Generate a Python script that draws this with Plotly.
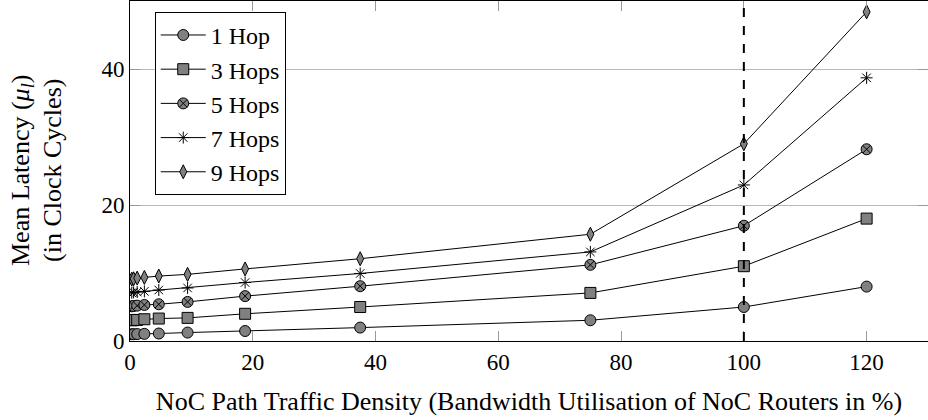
import plotly.graph_objects as go

# ---- data ----
traffic_density = [0.29, 0.59, 1.17, 2.34, 4.69, 9.38, 18.75, 37.5, 75, 100, 120]
hop1 = [1.0, 1.0, 1.02, 1.05, 1.1, 1.24, 1.47, 1.97, 3.05, 5.0, 8.0]
hop3 = [3.05, 3.07, 3.1, 3.2, 3.3, 3.4, 4.0, 5.0, 7.07, 11.0, 18.0]
hop5 = [5.1, 5.15, 5.2, 5.3, 5.4, 5.75, 6.6, 8.06, 11.2, 16.95, 28.2]
hop7 = [7.1, 7.15, 7.2, 7.3, 7.5, 7.8, 8.6, 9.93, 13.1, 22.95, 38.7]
hop9 = [9.1, 9.15, 9.25, 9.35, 9.55, 9.8, 10.6, 12.1, 15.7, 29.0, 48.4]
series_names = ["1 Hop", "3 Hops", "5 Hops", "7 Hops", "9 Hops"]
saturation_point = 100
x_ticks = [0, 20, 40, 60, 80, 100, 120]
y_ticks = [0, 20, 40]
y_title_lines = ["Mean Latency (<i>μ<sub>l</sub></i>)", "(in Clock Cycles)"]

FONT = "Liberation Serif"
TICK_FS = 23
TITLE_FS = 26
LEGEND_FS = 24
GRAY = "#808080"

styles = [
    dict(symbol="circle", size=11, color=GRAY, line=dict(color="black", width=1)),
    dict(symbol="square", size=11, color=GRAY, line=dict(color="black", width=1)),
    dict(symbol="circle-x", size=11, color=GRAY, line=dict(color="black", width=1)),
    dict(symbol="asterisk-open", size=10, color="black", line=dict(color="black", width=1)),
    dict(symbol="diamond-tall", size=10, color=GRAY, line=dict(color="black", width=1)),
]

fig = go.Figure()
for name, ys, st in zip(series_names, [hop1, hop3, hop5, hop7, hop9], styles):
    fig.add_trace(go.Scatter(
        x=traffic_density, y=ys, name=name, mode="lines+markers",
        line=dict(color="black", width=1),
        marker=st,
    ))

fig.add_shape(type="line", xref="x", yref="y domain",
              x0=saturation_point, x1=saturation_point, y0=0, y1=1,
              line=dict(color="black", width=2, dash="dash"), layer="above")

# y-axis title as two rotated lines (tighter line spacing like the reference)
for line_text, xshift in zip(y_title_lines, [-108, -78]):
    fig.add_annotation(text=line_text, xref="paper", yref="paper", x=0, y=0.5,
                       xshift=xshift, xanchor="center", yanchor="middle",
                       textangle=-90, showarrow=False,
                       font=dict(family=FONT, size=TITLE_FS, color="black"))

fig.update_layout(
    width=928, height=420,
    margin=dict(l=130, r=0, t=1, b=79),
    plot_bgcolor="white", paper_bgcolor="white",
    font=dict(family=FONT, size=TICK_FS, color="black"),
    showlegend=True,
    legend=dict(
        x=0.031, y=0.968, xanchor="left", yanchor="top",
        bordercolor="black", borderwidth=1, bgcolor="white",
        font=dict(family=FONT, size=LEGEND_FS),
        tracegroupgap=0, itemwidth=45,
    ),
    xaxis=dict(
        range=[0, 130], tickvals=x_ticks, ticks="inside", ticklen=10,
        tickcolor="#999999", showline=True, linecolor="black", linewidth=1,
        mirror="ticks", showgrid=False, zeroline=False, automargin=False,
        tickfont=dict(size=TICK_FS),
        title=dict(text="NoC Path Traffic Density (Bandwidth Utilisation of NoC Routers in %)",
                   standoff=18, font=dict(size=TITLE_FS)),
    ),
    yaxis=dict(
        range=[0, 50], tickvals=y_ticks, ticks="inside", ticklen=10,
        tickcolor="#999999", showline=True, linecolor="black", linewidth=1,
        mirror="ticks", showgrid=True, gridcolor="#b8b8b8", gridwidth=1,
        zeroline=False, automargin=False,
        tickfont=dict(size=TICK_FS),
    ),
)

fig.write_html("out.html", config={"displayModeBar": False},
               post_script="document.body.style.margin='0';")
